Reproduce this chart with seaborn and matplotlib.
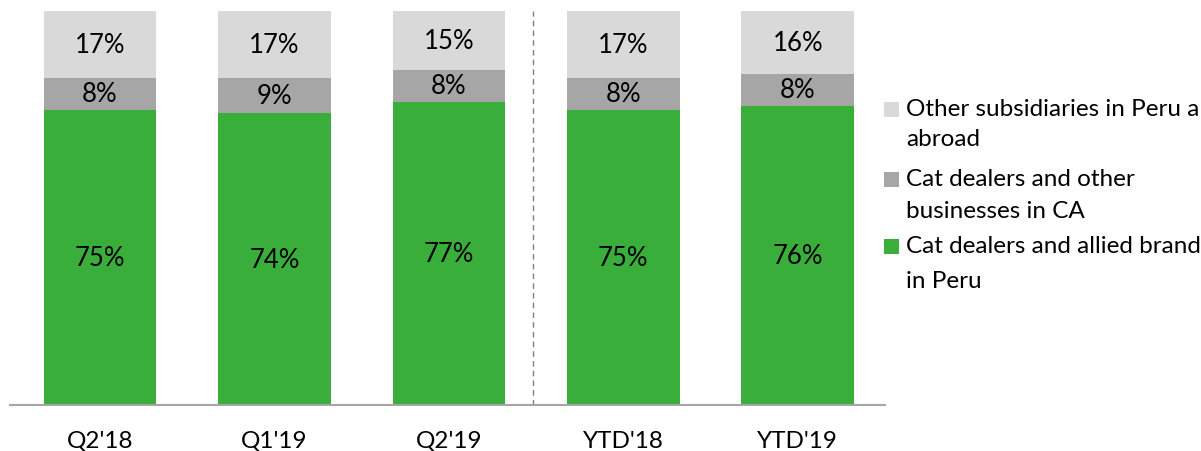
import matplotlib
matplotlib.use("Agg")
import matplotlib.pyplot as plt
import seaborn as sns
import numpy as np
import pandas as pd
from matplotlib.patches import Rectangle

# Data
periods = ["Q2'18", "Q1'19", "Q2'19", "YTD'18", "YTD'19"]
peru_cat = [75, 74, 77, 75, 76]
ca_cat = [8, 9, 8, 8, 8]
other_subs = [17, 17, 15, 17, 16]
series_names = [
    ["Cat dealers and allied brands", "in Peru"],
    ["Cat dealers and other", "businesses in CA"],
    ["Other subsidiaries in Peru and", "abroad"],
]
colors = ["#3AAE3A", "#A6A6A6", "#D9D9D9"]

sns.set_style("white")
plt.rcParams["font.family"] = ["Lato", "DejaVu Sans"]

df = pd.DataFrame({"period": periods, "peru": peru_cat, "ca": ca_cat, "other": other_subs})
df["lvl1"] = df["peru"]
df["lvl2"] = df["peru"] + df["ca"]
df["lvl3"] = df["lvl2"] + df["other"]

W, H = 1201, 452
fig = plt.figure(figsize=(W / 100, H / 100), dpi=100)
ax = fig.add_axes([10 / W, 46 / H, 875 / W, 394 / H])

# stacked bars: draw the cumulative totals from back to front
for col, c in zip(["lvl3", "lvl2", "lvl1"], colors[::-1]):
    sns.barplot(data=df, x="period", y=col, color=c, width=0.645,
                saturation=1, ax=ax, edgecolor="none")

# segment labels
for i in range(len(periods)):
    bottoms = [0, peru_cat[i], peru_cat[i] + ca_cat[i]]
    for b, v in zip(bottoms, [peru_cat[i], ca_cat[i], other_subs[i]]):
        ax.text(i, b + v / 2, f"{v}%", ha="center", va="center",
                fontsize=18.5, color="black")

# separator between quarters and year-to-date
ax.axvline(2.48, color="#808080", linestyle=(0, (4, 3)), linewidth=1)

ax.set_xlim(-0.515, 4.5)
ax.set_ylim(0, 100)
ax.set_xlabel("")
ax.set_ylabel("")
ax.set_yticks([])
ax.tick_params(axis="x", length=0, pad=18, labelsize=17.5, labelcolor="black")
for s in ["top", "right", "left"]:
    ax.spines[s].set_visible(False)
ax.spines["bottom"].set_color("#A6A6A6")
ax.spines["bottom"].set_linewidth(1.5)

# legend (square aligned with first line of each two-line label)
legend_rows = [(110, 140), (180, 212), (247, 281)]
for (y1, y2), lines, c in zip(legend_rows, series_names[::-1], colors[::-1]):
    fig.patches.append(Rectangle((884 / W, 1 - (y1 + 7.5) / H), 15 / W, 15 / H,
                                 transform=fig.transFigure, facecolor=c,
                                 edgecolor="none"))
    for y, line in zip((y1, y2), lines):
        fig.text(906 / W, 1 - y / H, line, ha="left", va="center",
                 fontsize=17.5, color="black")

plt.savefig("out.png", dpi=100)
plt.close()
